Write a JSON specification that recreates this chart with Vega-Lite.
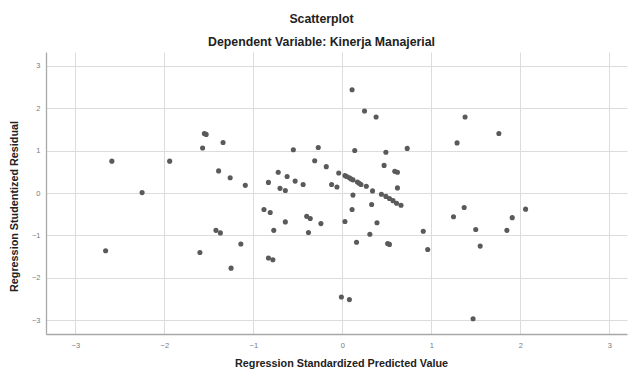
{
  "$schema": "https://vega.github.io/schema/vega-lite/v6.json",
  "autosize": {"type": "none"},
  "padding": {"left": 46, "top": 52, "right": 2, "bottom": 36},
  "width": 581,
  "height": 282,
  "background": "white",
  "title": {
    "text": "Scatterplot",
    "subtitle": "Dependent Variable: Kinerja Manajerial",
    "font": "Liberation Sans",
    "fontSize": 12.3,
    "fontWeight": "bold",
    "color": "#222222",
    "subtitleFont": "Liberation Sans",
    "subtitleFontSize": 12.3,
    "subtitleFontWeight": "bold",
    "subtitleColor": "#222222",
    "subtitlePadding": 10,
    "anchor": "middle",
    "dx": -15,
    "offset": 4
  },
  "config": {
    "view": {"stroke": null},
    "axis": {
      "labelFont": "Liberation Sans",
      "labelFontSize": 7.5,
      "labelColor": "#7a7a7a",
      "titleFont": "Liberation Sans",
      "titleFontSize": 10.8,
      "titleFontWeight": "bold",
      "titleColor": "#222222",
      "gridColor": "#dcdcdc",
      "gridWidth": 1,
      "domainColor": "#a8a8a8",
      "domainWidth": 1.3,
      "ticks": false
    }
  },
  "data": {
    "values": [
      {"x": -2.66, "y": -1.36}, {"x": -2.59, "y": 0.75}, {"x": -2.25, "y": 0.01}, {"x": -1.94, "y": 0.75},
      {"x": -1.60, "y": -1.40}, {"x": -1.55, "y": 1.40}, {"x": -1.53, "y": 1.38}, {"x": -1.57, "y": 1.06},
      {"x": -1.34, "y": 1.19}, {"x": -1.39, "y": 0.52}, {"x": -1.26, "y": 0.36}, {"x": -1.09, "y": 0.18},
      {"x": -1.42, "y": -0.88}, {"x": -1.37, "y": -0.94}, {"x": -1.25, "y": -1.77}, {"x": -1.14, "y": -1.20},
      {"x": -0.88, "y": -0.39}, {"x": -0.81, "y": -0.46}, {"x": -0.83, "y": 0.25}, {"x": -0.72, "y": 0.49},
      {"x": -0.62, "y": 0.39}, {"x": -0.70, "y": 0.11}, {"x": -0.64, "y": 0.06}, {"x": -0.53, "y": 0.28},
      {"x": -0.44, "y": 0.20}, {"x": -0.55, "y": 1.02}, {"x": -0.27, "y": 1.07}, {"x": -0.31, "y": 0.76},
      {"x": -0.18, "y": 0.62}, {"x": -0.04, "y": 0.47}, {"x": 0.03, "y": 0.41}, {"x": 0.05, "y": 0.39},
      {"x": 0.08, "y": 0.36}, {"x": 0.10, "y": 0.33}, {"x": 0.12, "y": 0.31}, {"x": 0.17, "y": 0.26},
      {"x": 0.19, "y": 0.23}, {"x": 0.21, "y": 0.20}, {"x": 0.27, "y": 0.16}, {"x": 0.34, "y": 0.05},
      {"x": -0.12, "y": 0.20}, {"x": -0.06, "y": 0.14}, {"x": -0.77, "y": -0.88}, {"x": -0.64, "y": -0.68},
      {"x": -0.40, "y": -0.55}, {"x": -0.36, "y": -0.60}, {"x": -0.24, "y": -0.72}, {"x": -0.38, "y": -0.93},
      {"x": -0.83, "y": -1.53}, {"x": -0.78, "y": -1.57}, {"x": 0.11, "y": 2.43}, {"x": 0.25, "y": 1.93},
      {"x": 0.38, "y": 1.79}, {"x": 0.14, "y": 1.00}, {"x": 0.49, "y": 0.96}, {"x": 0.73, "y": 1.05},
      {"x": 0.47, "y": 0.65}, {"x": 0.59, "y": 0.51}, {"x": 0.62, "y": 0.49}, {"x": 0.62, "y": 0.12},
      {"x": 0.44, "y": -0.03}, {"x": 0.49, "y": -0.08}, {"x": 0.53, "y": -0.13}, {"x": 0.57, "y": -0.18},
      {"x": 0.61, "y": -0.24}, {"x": 0.66, "y": -0.29}, {"x": 0.12, "y": -0.05}, {"x": 0.11, "y": -0.39},
      {"x": 0.33, "y": -0.27}, {"x": 0.03, "y": -0.67}, {"x": 0.39, "y": -0.70}, {"x": 0.31, "y": -0.97},
      {"x": 0.16, "y": -1.16}, {"x": 0.51, "y": -1.19}, {"x": 0.53, "y": -1.21}, {"x": 0.91, "y": -0.90},
      {"x": 0.96, "y": -1.33}, {"x": 1.25, "y": -0.56}, {"x": 1.37, "y": -0.34}, {"x": 1.50, "y": -0.86},
      {"x": 1.55, "y": -1.25}, {"x": 1.85, "y": -0.88}, {"x": 1.91, "y": -0.58}, {"x": 2.06, "y": -0.38},
      {"x": 1.29, "y": 1.18}, {"x": 1.38, "y": 1.79}, {"x": 1.76, "y": 1.40}, {"x": -0.01, "y": -2.45},
      {"x": 0.08, "y": -2.51}, {"x": 1.47, "y": -2.96}
    ]
  },
  "mark": {"type": "point", "filled": true, "size": 26, "color": "#5a5a5a", "opacity": 1},
  "encoding": {
    "x": {
      "field": "x",
      "type": "quantitative",
      "scale": {"domain": [-3.33, 3.2], "nice": false, "zero": false},
      "axis": {
        "title": "Regression Standardized Predicted Value",
        "values": [-3, -2, -1, 0, 1, 2, 3],
        "labelPadding": 7,
        "titlePadding": 9,
        "titleX": 295
      }
    },
    "y": {
      "field": "y",
      "type": "quantitative",
      "scale": {"domain": [-3.32, 3.32], "nice": false, "zero": false},
      "axis": {
        "title": "Regression Studentized Residual",
        "values": [-3, -2, -1, 0, 1, 2, 3],
        "labelPadding": 6,
        "titlePadding": 12,
        "titleY": 154
      }
    }
  }
}
